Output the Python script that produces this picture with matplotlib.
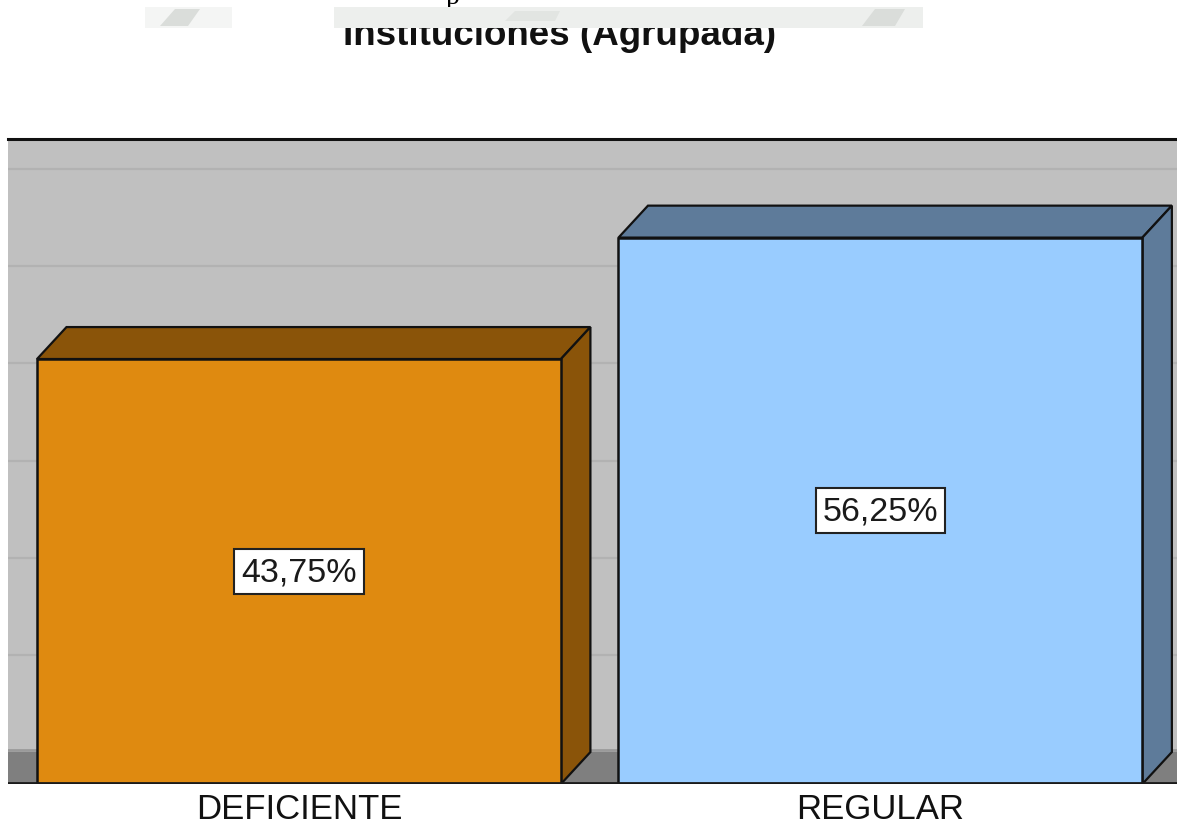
import matplotlib
matplotlib.use("Agg")
import matplotlib.pyplot as plt
from matplotlib.patches import Rectangle, Polygon

# data
categories = ["DEFICIENTE", "REGULAR"]
values = [43.75, 56.25]
value_labels = ["43,75%", "56,25%"]
title_text = "Instituciones (Agrupada)"

# look
front_colors = ["#DF8A10", "#99CCFF"]
shade_colors = ["#8A5409", "#5E7B9A"]
wall_color = "#C0C0C0"
floor_color = "#7F7F7F"
grid_color = "#B2B2B2"
bar_width = 0.901
depth_x = 0.0507   # 3d offset, x units
depth_y = 3.29     # 3d offset, percent units
grid_step = 10

plt.rcParams['font.family'] = ['Liberation Sans', 'DejaVu Sans']

W, H = 1177, 829
fig = plt.figure(figsize=(W / 100, H / 100), dpi=100)
ax = fig.add_axes([8 / W, (H - 785) / H, (W - 8) / W, (785 - 140) / H])
ax.set_xlim(-0.5004, 1.51)
ax.set_ylim(0, 66.4)
ax.set_facecolor(wall_color)

# floor + back wall gridlines
ax.axhspan(0, depth_y, color=floor_color, lw=0, zorder=1)
ax.axhline(depth_y + 0.2, color="#9A9A9A", lw=2, zorder=1)
k = 1
while depth_y + k * grid_step < 66.4:
    ax.axhline(depth_y + k * grid_step, color=grid_color, lw=1.6, zorder=1)
    k += 1
ax.axhline(0.15, color="#1A1A1A", lw=2, zorder=6)

for i, (v, fc, sc, lab) in enumerate(zip(values, front_colors, shade_colors, value_labels)):
    x0, x1 = i - bar_width / 2, i + bar_width / 2
    top = Polygon([(x0, v), (x0 + depth_x, v + depth_y), (x1 + depth_x, v + depth_y), (x1, v)],
                  closed=True, facecolor=sc, edgecolor="#111111", lw=1.6, zorder=3)
    side = Polygon([(x1, 0), (x1 + depth_x, depth_y), (x1 + depth_x, v + depth_y), (x1, v)],
                   closed=True, facecolor=sc, edgecolor="#111111", lw=1.6, zorder=3)
    front = Rectangle((x0, 0), bar_width, v, facecolor=fc, edgecolor="#111111", lw=1.8, zorder=4)
    ax.add_patch(top)
    ax.add_patch(side)
    ax.add_patch(front)
    ax.text(i, v / 2, lab, ha="center", va="center", fontsize=24.5, color="#1A1A1A", zorder=5,
            bbox=dict(boxstyle="square,pad=0.2", facecolor="white", edgecolor="#222222", lw=1.5))

ax.set_xticks(range(len(categories)))
ax.set_xticklabels(categories, fontsize=25, color="#111111")
ax.tick_params(axis="x", length=0, pad=6)
ax.set_yticks([])
for s in ["left", "right", "bottom"]:
    ax.spines[s].set_visible(False)
ax.spines["top"].set_linewidth(2.2)
ax.spines["top"].set_color("#111111")

# title, partly hidden behind the scanned strip above it
fig.text(560 / W, 1 - 45 / H, title_text, ha="center", va="baseline", fontsize=26.5,
         fontweight="bold", color="#111111", zorder=1)
fig.text(453 / W, 1 - 4 / H, "p", ha="center", va="baseline", fontsize=20,
         family="Liberation Serif", color="black", zorder=1)
fig.add_artist(Rectangle((334 / W, 1 - 29 / H), (923 - 334) / W, 21 / H, transform=fig.transFigure,
                         facecolor="#EDEFED", edgecolor="none", zorder=2))
fig.add_artist(Rectangle((145 / W, 1 - 29 / H), (232 - 145) / W, 21 / H, transform=fig.transFigure,
                         facecolor="#F4F5F4", edgecolor="none", zorder=2))
fig.add_artist(Polygon([(160 / W, 1 - 27 / H), (175 / W, 1 - 10 / H), (200 / W, 1 - 10 / H),
                        (188 / W, 1 - 27 / H)], closed=True, transform=fig.transFigure,
                       facecolor="#DADDDA", edgecolor="none", zorder=3))
fig.add_artist(Polygon([(505 / W, 1 - 22 / H), (515 / W, 1 - 12 / H), (560 / W, 1 - 12 / H),
                        (555 / W, 1 - 22 / H)], closed=True, transform=fig.transFigure,
                       facecolor="#E2E5E2", edgecolor="none", zorder=3))
fig.add_artist(Polygon([(862 / W, 1 - 27 / H), (875 / W, 1 - 10 / H), (905 / W, 1 - 10 / H),
                        (895 / W, 1 - 27 / H)], closed=True, transform=fig.transFigure,
                       facecolor="#DADDDA", edgecolor="none", zorder=3))

fig.savefig("out.png", dpi=100, facecolor="white")
